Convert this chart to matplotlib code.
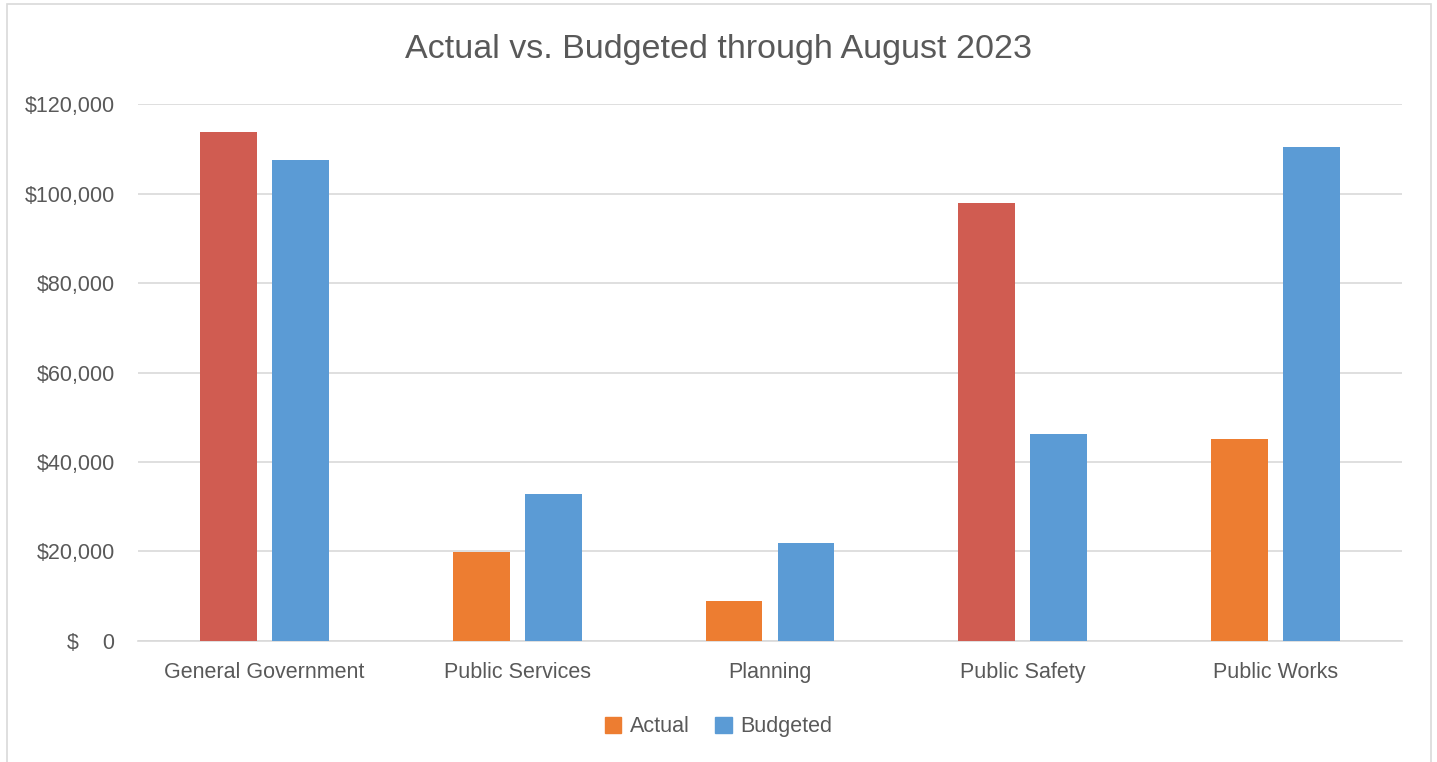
import numpy as np
import matplotlib.pyplot as plt
from matplotlib.patches import Rectangle, Patch

categories = ['General Government', 'Public Services', 'Planning', 'Public Safety', 'Public Works']
actual = [113800, 19900, 8900, 97900, 45100]
budgeted = [107500, 32900, 21900, 46200, 110400]
yticks = [0, 20000, 40000, 60000, 80000, 100000, 120000]
ytick_labels = ['$    0', '$20,000', '$40,000', '$60,000', '$80,000', '$100,000', '$120,000']

orange = '#ED7D31'
red = '#D05C51'
blue = '#5B9BD5'
text_col = '#595959'

plt.rcParams['font.family'] = ['Liberation Sans', 'DejaVu Sans']

fig = plt.figure(figsize=(14.37, 7.62), dpi=100)
ax = fig.add_axes([0.096, 0.1588, 0.8797, 0.7047])

x = np.arange(len(categories))
w = 0.225
off = 0.1425
# actual bars turn red when they go over budget
act_colors = [red if a > b else orange for a, b in zip(actual, budgeted)]
ax.bar(x - off, actual, w, color=act_colors, zorder=3)
ax.bar(x + off, budgeted, w, color=blue, zorder=3)

ax.set_xlim(-0.5, len(categories) - 0.5)
ax.set_ylim(0, 120000)
ax.set_yticks(yticks)
ax.set_yticklabels(ytick_labels)
ax.set_xticks(x)
ax.set_xticklabels(categories)
ax.tick_params(axis='both', length=0, labelsize=15.5, labelcolor=text_col)
ax.tick_params(axis='y', pad=16.5)
ax.tick_params(axis='x', pad=15)
ax.grid(axis='y', color='#D9D9D9', linewidth=1.2, zorder=0)
for s in ['top', 'right', 'left']:
    ax.spines[s].set_visible(False)
ax.spines['bottom'].set_color('#D9D9D9')
ax.spines['bottom'].set_linewidth(1.2)

fig.text(0.5, 0.935, 'Actual vs. Budgeted through August 2023', ha='center', va='center',
         fontsize=24.5, color=text_col)

handles = [Patch(color=orange, label='Actual'), Patch(color=blue, label='Budgeted')]
fig.legend(handles=handles, loc='center', bbox_to_anchor=(0.5, 0.046), ncol=2, frameon=False,
           fontsize=15.5, labelcolor=text_col, handlelength=0.75, handleheight=0.75,
           handletextpad=0.4, columnspacing=1.2)

# outer chart border
fig.patches.append(Rectangle((7 / 1437, -0.05), 1424 / 1437, 1.05 - 4 / 762,
                             transform=fig.transFigure, fill=False,
                             edgecolor='#D9D9D9', linewidth=1.2))

fig.savefig('out.png', dpi=100)
